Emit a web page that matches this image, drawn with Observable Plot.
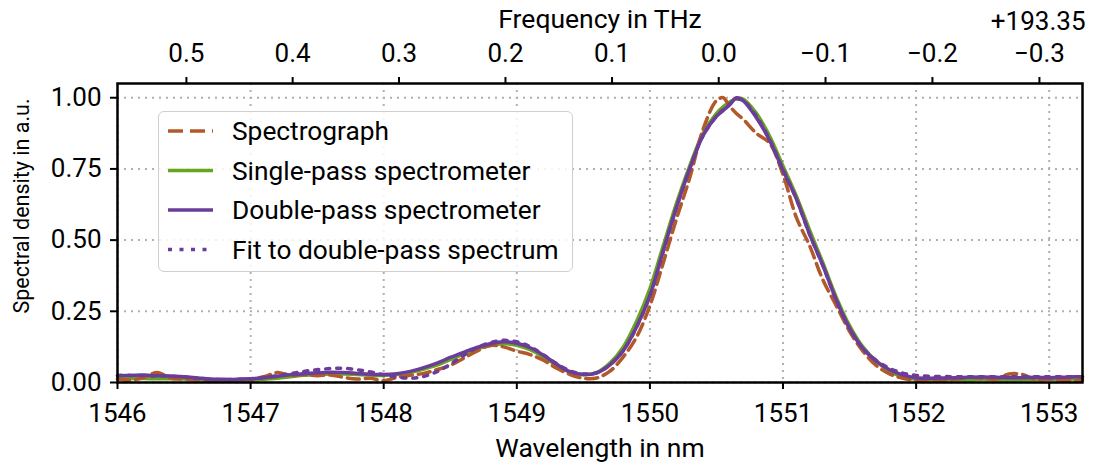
<!DOCTYPE html>
<html>
<head>
<meta charset="utf-8">
<script src="https://cdn.jsdelivr.net/npm/d3@7"></script>
<script src="https://cdn.jsdelivr.net/npm/@observablehq/plot@0.6"></script>
<style>
  html, body { margin: 0; padding: 0; background: white; }
  #wrap { position: relative; width: 1095px; height: 465px; font-family: Roboto, sans-serif; }
  #legend { position: absolute; left: 158px; top: 111px; width: 415px; height: 161px;
            border: 1.5px solid #cfcfcf; border-radius: 6px; background: rgba(255,255,255,0.85); box-sizing: border-box; }
</style>
</head>
<body>
<div id="wrap"><div id="legend"></div></div>
<script>
// Wavelength grid (nm)
const wavelength = [
  1546.0,1546.1,1546.2,1546.3,1546.4,1546.5,1546.6,1546.7,1546.8,1546.9,
  1547.0,1547.1,1547.2,1547.3,1547.4,1547.5,1547.6,1547.7,1547.8,1547.9,
  1548.0,1548.1,1548.2,1548.3,1548.4,1548.5,1548.6,1548.7,1548.8,1548.9,
  1549.0,1549.1,1549.2,1549.3,1549.4,1549.5,1549.6,1549.7,1549.8,1549.9,
  1550.0,1550.1,1550.2,1550.3,1550.4,1550.5,1550.55,1550.6,1550.65,1550.7,
  1550.8,1550.9,1551.0,1551.1,1551.2,1551.3,1551.4,1551.5,1551.6,1551.7,
  1551.8,1551.9,1552.0,1552.1,1552.2,1552.3,1552.4,1552.5,1552.6,1552.7,
  1552.8,1552.9,1553.0,1553.1,1553.2,1553.25];

const spectrograph = [
  0.012,0.008,0.018,0.035,0.015,0.012,0.010,0.008,0.009,0.010,
  0.012,0.020,0.035,0.025,0.028,0.024,0.026,0.018,0.012,0.015,
  0.006,0.018,0.025,0.032,0.045,0.060,0.085,0.110,0.130,0.125,
  0.110,0.098,0.078,0.050,0.028,0.015,0.016,0.040,0.090,0.160,
  0.270,0.420,0.575,0.720,0.890,0.990,1.000,0.970,0.945,0.925,
  0.875,0.840,0.730,0.580,0.480,0.360,0.270,0.180,0.110,0.060,
  0.030,0.015,0.008,0.010,0.009,0.012,0.018,0.015,0.012,0.030,
  0.028,0.010,0.012,0.008,0.006,0.007];

const singlePass = [
  0.013,0.014,0.014,0.013,0.013,0.012,0.010,0.008,0.007,0.007,
  0.008,0.011,0.015,0.020,0.025,0.028,0.030,0.030,0.028,0.026,
  0.025,0.028,0.035,0.047,0.061,0.080,0.100,0.118,0.130,0.136,
  0.131,0.115,0.090,0.060,0.036,0.027,0.035,0.068,0.125,0.215,
  0.330,0.480,0.630,0.762,0.876,0.945,0.968,0.985,0.997,0.995,
  0.945,0.865,0.760,0.655,0.535,0.420,0.300,0.200,0.125,0.075,
  0.040,0.020,0.011,0.009,0.009,0.010,0.010,0.011,0.010,0.010,
  0.010,0.011,0.011,0.011,0.012,0.012];

const doublePass = [
  0.024,0.025,0.026,0.024,0.023,0.020,0.016,0.012,0.011,0.011,
  0.013,0.017,0.022,0.027,0.031,0.034,0.036,0.035,0.032,0.029,
  0.028,0.031,0.039,0.052,0.068,0.088,0.106,0.123,0.136,0.143,
  0.138,0.122,0.096,0.064,0.038,0.028,0.034,0.062,0.112,0.195,
  0.305,0.462,0.615,0.752,0.868,0.935,0.955,0.975,1.000,0.990,
  0.930,0.850,0.745,0.645,0.520,0.410,0.290,0.190,0.120,0.075,
  0.045,0.027,0.017,0.015,0.016,0.017,0.018,0.019,0.018,0.017,
  0.017,0.018,0.017,0.018,0.020,0.020];

const fitDoublePass = [
  0.025,0.025,0.024,0.023,0.022,0.020,0.015,0.011,0.010,0.011,
  0.013,0.018,0.024,0.031,0.039,0.045,0.049,0.050,0.045,0.037,
  0.027,0.019,0.015,0.021,0.038,0.064,0.095,0.122,0.140,0.148,
  0.143,0.126,0.097,0.066,0.041,0.030,0.034,0.062,0.112,0.195,
  0.305,0.460,0.615,0.752,0.868,0.935,0.958,0.978,0.995,0.990,
  0.935,0.852,0.748,0.645,0.520,0.410,0.290,0.190,0.120,0.078,
  0.050,0.033,0.025,0.022,0.021,0.020,0.020,0.020,0.020,0.020,
  0.020,0.020,0.020,0.020,0.020,0.020];

const wavelengthTicks = [1546,1547,1548,1549,1550,1551,1552,1553];
const densityTicks = [0, 0.25, 0.5, 0.75, 1.0];
const freqOffset = 193.35; // THz
const freqTicks = [0.5, 0.4, 0.3, 0.2, 0.1, 0.0, -0.1, -0.2, -0.3];
const freqTickLabels = ["0.5","0.4","0.3","0.2","0.1","0.0","\u22120.1","\u22120.2","\u22120.3"];
const C_NM_THZ = 299792.458;

const seriesNames = ["Spectrograph","Single-pass spectrometer","Double-pass spectrometer","Fit to double-pass spectrum"];
const seriesColors = ["#b15928","#66a61e","#6a3d9a","#6a3d9a"];
const seriesDash = ["12,6", null, null, "4,7"];

const rows = (vals) => wavelength.map((w, i) => ({w, v: vals[i]}));
const topTickLambda = freqTicks.map(f => C_NM_THZ / (freqOffset + f));
const topLabelOf = new Map(topTickLambda.map((l, i) => [l, freqTickLabels[i]]));

const lw = 3.5;
const FS = 26;
const chart = Plot.plot({
  width: 1095, height: 465,
  marginLeft: 117, marginRight: 13, marginTop: 83, marginBottom: 83,
  x: {domain: [1546, 1553.25]},
  y: {domain: [0, 1.05]},
  style: {fontFamily: "Roboto, sans-serif", fontSize: FS + "px", color: "black", background: "white", overflow: "visible"},
  marks: [
    Plot.gridX(wavelengthTicks, {stroke: "#b0b0b0", strokeOpacity: 1, strokeWidth: 2, strokeDasharray: "2,5"}),
    Plot.gridY(densityTicks, {stroke: "#b0b0b0", strokeOpacity: 1, strokeWidth: 2, strokeDasharray: "2,5"}),
    Plot.line(rows(singlePass), {x: "w", y: "v", stroke: seriesColors[1], strokeWidth: lw, curve: "catmull-rom"}),
    Plot.line(rows(spectrograph), {x: "w", y: "v", stroke: seriesColors[0], strokeWidth: lw, strokeDasharray: seriesDash[0], curve: "catmull-rom"}),
    Plot.line(rows(doublePass), {x: "w", y: "v", stroke: seriesColors[2], strokeWidth: lw, curve: "catmull-rom"}),
    Plot.line(rows(fitDoublePass), {x: "w", y: "v", stroke: seriesColors[3], strokeWidth: lw, strokeDasharray: seriesDash[3], curve: "catmull-rom"}),
    Plot.frame({stroke: "black", strokeWidth: 2.5}),
    Plot.axisX(wavelengthTicks, {anchor: "bottom", tickSize: 7, tickPadding: 14, strokeWidth: 2, fontSize: FS, tickFormat: d => String(d), label: null}),
    Plot.axisY(densityTicks, {anchor: "left", tickSize: 7, tickPadding: 9, strokeWidth: 2, fontSize: FS, tickFormat: d => d.toFixed(2), label: null}),
    Plot.axisX(topTickLambda, {anchor: "top", tickSize: 7, tickPadding: 15, strokeWidth: 2, fontSize: FS, tickFormat: d => topLabelOf.get(d), label: null}),
    Plot.text(["Wavelength in nm"], {frameAnchor: "bottom", dy: 66, lineAnchor: "middle", fontSize: 26.5}),
    Plot.text(["Spectral density in a.u."], {frameAnchor: "left", dx: -95, dy: -27, rotate: -90, textAnchor: "middle", lineAnchor: "middle", fontSize: 21.5}),
    Plot.text(["Frequency in THz"], {frameAnchor: "top", dy: -64, lineAnchor: "middle", fontSize: 26.5}),
    Plot.text(["+193.35"], {frameAnchor: "top-right", dy: -62, dx: 3, textAnchor: "end", lineAnchor: "middle", fontSize: 26})
  ]
});
document.getElementById("wrap").prepend(chart);

// Legend
const legend = d3.select("#legend").append("svg").attr("width", 415).attr("height", 161)
  .style("position", "absolute").style("left", "-1.5px").style("top", "-1.5px");
seriesNames.forEach((name, i) => {
  const cy = 20 + i * 39.5;
  legend.append("line").attr("x1", 10).attr("x2", 55).attr("y1", cy).attr("y2", cy)
    .attr("stroke", seriesColors[i]).attr("stroke-width", lw)
    .attr("stroke-dasharray", seriesDash[i] ? (i === 0 ? "15,7" : "4,7.5") : null);
  legend.append("text").attr("x", 74).attr("y", cy).attr("dy", "0.35em")
    .attr("font-family", "Roboto, sans-serif").attr("font-size", 26.3).attr("fill", "black").text(name);
});
</script>
</body>
</html>
